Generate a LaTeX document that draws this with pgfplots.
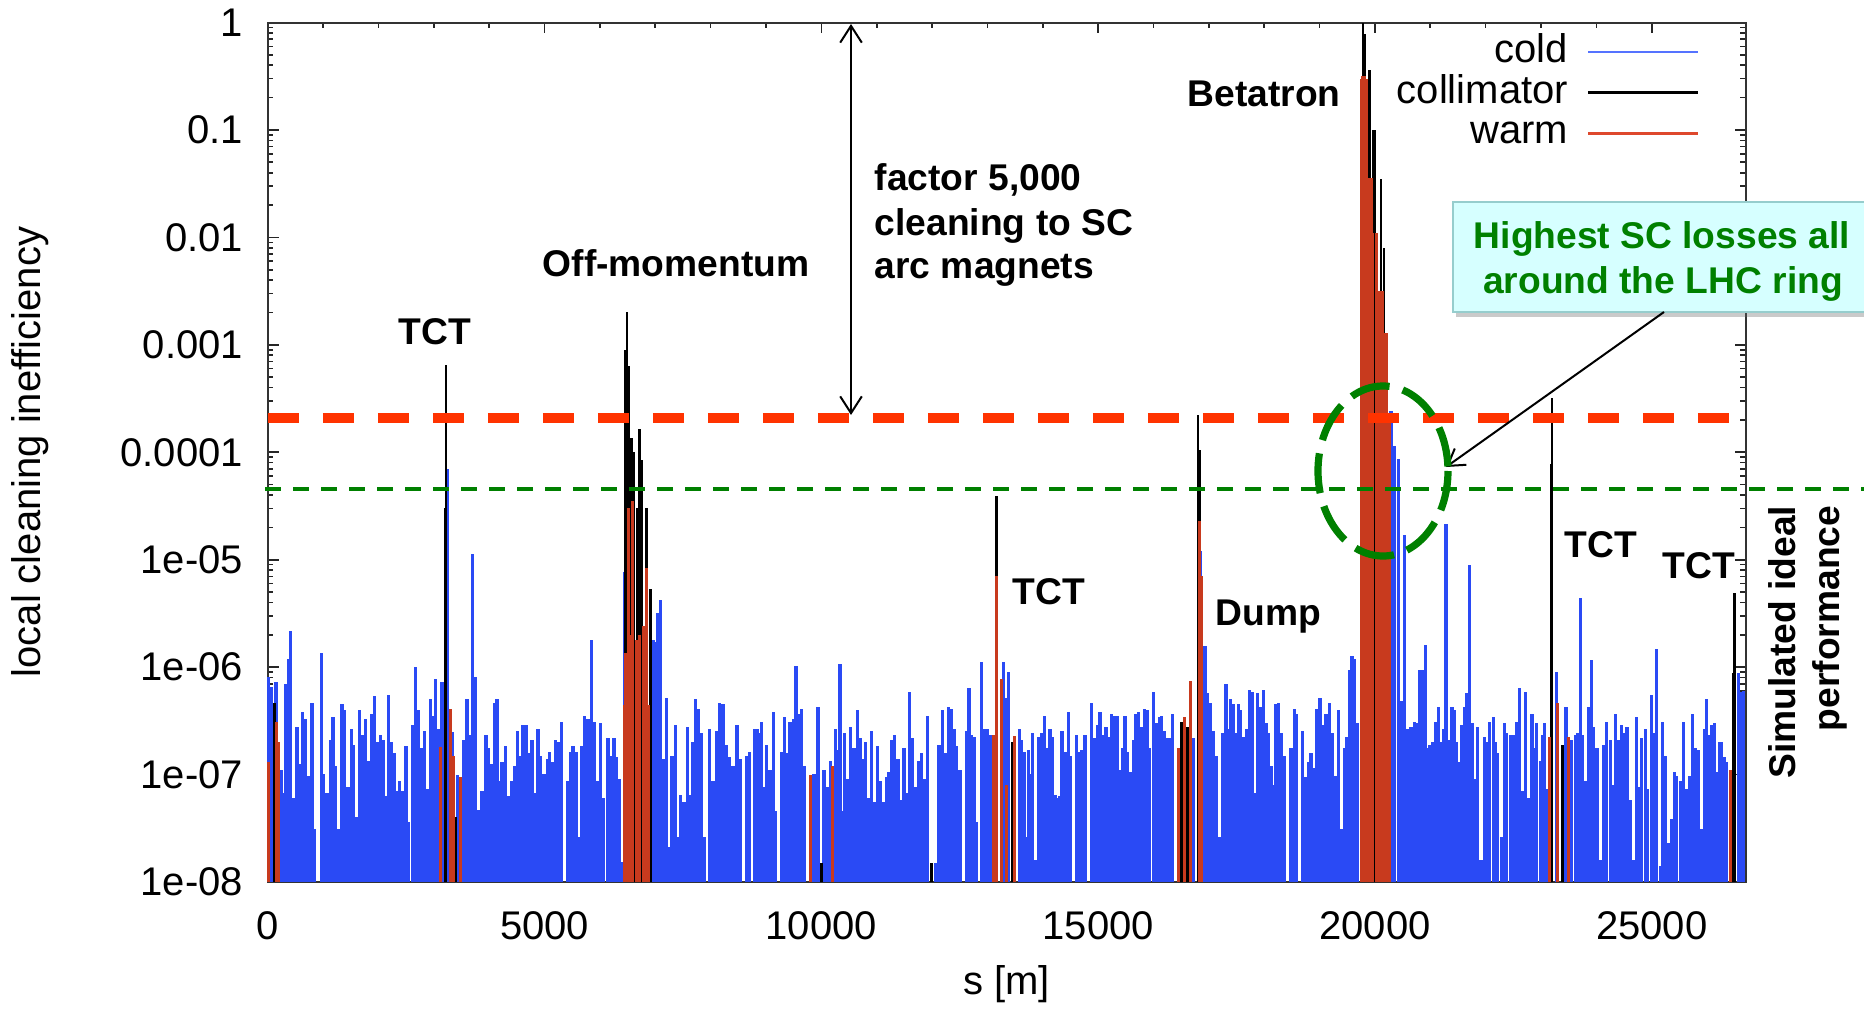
\documentclass[border=0pt]{standalone}
\usepackage{fontspec}
\setmainfont{Liberation Sans}
\usepackage{pgfplots}
\pgfplotsset{compat=1.18}
\usepackage{pgfplotstable}
\usetikzlibrary{arrows.meta,shadows}

\definecolor{coldblue}{RGB}{42,74,245}
\definecolor{coldleg}{RGB}{85,115,255}
\definecolor{warmred}{RGB}{200,58,30}
\definecolor{warmleg}{RGB}{222,72,45}
\definecolor{refred}{RGB}{255,51,0}
\definecolor{refgreen}{RGB}{0,128,0}
\definecolor{boxfill}{RGB}{214,255,255}
\definecolor{boxdraw}{RGB}{150,205,205}

\newcommand{\annfont}{\bfseries\fontsize{9.3}{11.2}\selectfont}

\pgfplotstableread{
s v
15 8.1e-7
70 6.6e-7
148 7.2e-7
244 1.1e-7
286 6.8e-8
328 6.9e-7
371 1.2e-6
413 2.15e-6
455 6e-8
527 2.76e-7
575 1.25e-7
630 3.8e-7
678 3.3e-7
738 9.8e-8
798 4.65e-7
846 3.1e-8
967 1.36e-6
1009 1.02e-7
1069 6.8e-8
1129 2.1e-7
1178 3.4e-7
1220 1.2e-7
1280 3.1e-8
1340 4.5e-7
1388 3.95e-7
1448 7.7e-8
1509 2.65e-7
1551 1.9e-7
1611 4e-8
1659 3.95e-7
1701 2.35e-7
1762 3.3e-7
1822 1.35e-7
1870 3.65e-7
1924 5.4e-7
1972 2e-7
2033 2.35e-7
2081 2.1e-7
2135 6.3e-8
2183 5.45e-7
2231 2e-7
2291 1.6e-7
2333 7e-8
2382 8.7e-8
2424 7e-8
2496 1.85e-7
2544 3.6e-8
2617 2.9e-7
2665 1e-6
2713 3.95e-7
2767 1.78e-7
2827 2.55e-7
2875 7.4e-8
2936 5e-7
2984 3.5e-7
3026 7.8e-7
3074 2.65e-7
3146 7.2e-7
3240 7e-5
3330 2.5e-7
3420 1e-7
3480 6e-8
3538 2.1e-7
3598 5e-7
3658 2.35e-7
3700 1.14e-5
3748 8.1e-7
3809 4.7e-8
3869 7e-8
3941 2.35e-7
3989 1.78e-7
4037 1.25e-7
4092 4.65e-7
4140 5e-7
4182 8.7e-8
4230 1.3e-7
4290 1.85e-7
4350 6.3e-8
4398 8.7e-8
4459 1.2e-7
4508 2.55e-7
4568 1.5e-7
4610 2.9e-7
4670 2.9e-7
4712 1.6e-7
4773 2.1e-7
4821 6.8e-8
4881 2.65e-7
4929 1.5e-7
4989 1.02e-7
5049 1.4e-7
5092 1.64e-7
5152 1.3e-7
5200 2.1e-7
5254 2e-7
5302 3.1e-7
5423 8.7e-8
5465 1.64e-7
5513 1.85e-7
5573 1.64e-7
5621 2.6e-8
5676 1.85e-7
5724 3.5e-7
5784 3.3e-7
5844 1.8e-6
5892 3.1e-7
5953 8.7e-8
6007 3e-7
6055 6e-8
6145 2.2e-7
6206 1.5e-7
6254 2.2e-7
6296 1.45e-7
6344 9e-8
6386 1.55e-8
6446 7.7e-6
6958 1.8e-6
7018 1.7e-6
7048 3.2e-6
7097 4.2e-6
7139 1.4e-7
7199 5.2e-7
7259 2.1e-8
7301 1.5e-7
7361 2.9e-7
7410 2.6e-8
7458 6.5e-8
7518 5.6e-8
7578 2.76e-7
7638 6.5e-8
7681 2e-7
7729 5e-7
7783 4.1e-7
7831 2.45e-7
7891 2.6e-8
7982 2.65e-7
8042 8.7e-8
8102 2.55e-7
8162 4.65e-7
8222 4.5e-7
8283 1.9e-7
8343 1.45e-7
8403 1.2e-7
8475 2.9e-7
8536 1.4e-7
8644 1.5e-7
8704 1.64e-7
8794 2.65e-7
8843 2.65e-7
8873 2.45e-7
8915 3.1e-7
8964 7.7e-8
9012 1.9e-7
9072 1.1e-7
9132 3.8e-7
9174 4.6e-8
9277 1.64e-7
9337 3.4e-7
9385 1.6e-7
9433 3.1e-7
9493 3.3e-7
9542 1.03e-6
9596 3.65e-7
9644 4.1e-7
9686 1.2e-7
9867 1.02e-7
9939 4.3e-7
10047 1.1e-7
10120 7.7e-8
10168 1.35e-7
10258 2.65e-7
10300 1.7e-7
10336 1.07e-6
10379 4.6e-8
10421 2.45e-7
10481 9e-8
10529 2.76e-7
10589 1.78e-7
10649 3.95e-7
10698 2.2e-7
10758 1.4e-7
10800 2e-7
10860 6e-8
10902 2.55e-7
10963 5.6e-8
11011 1.85e-7
11071 8.7e-8
11131 5.6e-8
11179 9.4e-8
11221 1.06e-7
11270 2.1e-7
11324 2.35e-7
11384 1.4e-7
11432 5.8e-8
11492 1.78e-7
11541 6.8e-8
11595 5.9e-7
11643 2.2e-7
11703 7.7e-8
11763 1.35e-7
11812 1.6e-7
11866 9e-8
11914 3.5e-7
12064 1.5e-8
12125 1.9e-7
12185 3.95e-7
12245 1.6e-7
12293 4.3e-7
12347 4.1e-7
12396 2.65e-7
12444 1.85e-7
12504 1.1e-7
12624 2.55e-7
12666 6.4e-7
12709 2.35e-7
12757 2.26e-7
12805 3.6e-8
12895 1.12e-6
12950 2.65e-7
12998 2.65e-7
13058 2.35e-7
13286 1.12e-6
13316 5.2e-7
13376 9.1e-7
13575 2.65e-7
13617 2.1e-7
13660 1.64e-7
13696 2.6e-8
13738 1.7e-7
13780 1.02e-7
13816 2.45e-7
13858 1.6e-8
13918 2.26e-7
13979 2.45e-7
14027 3.5e-7
14069 1.78e-7
14129 2.65e-7
14171 2.26e-7
14219 6.5e-8
14262 6e-8
14310 6.3e-8
14346 2.55e-7
14400 1.64e-7
14460 3.8e-7
14502 1.5e-7
14611 2.35e-7
14659 1.64e-7
14701 1.7e-7
14761 2.35e-7
14882 4.65e-7
14942 2.2e-7
14990 2.9e-7
15032 3.8e-7
15093 2.35e-7
15141 2.76e-7
15183 2.26e-7
15243 3.65e-7
15291 3.5e-7
15345 3.5e-7
15394 1.1e-7
15442 1.78e-7
15484 3.5e-7
15526 1.64e-7
15574 1.06e-7
15634 2.1e-7
15683 3.65e-7
15725 3.8e-7
15785 2.76e-7
15833 4.1e-7
15887 3.95e-7
15935 1.78e-7
15996 5.9e-7
16044 3e-7
16104 3.4e-7
16146 3.5e-7
16194 2.55e-7
16249 2.2e-7
16297 2.2e-7
16345 3.65e-7
16718 2.2e-7
16856 1.2e-5
16929 1.56e-6
16971 5.7e-7
17019 4.65e-7
17049 2.26e-7
17091 2.55e-7
17140 1.5e-7
17200 2.6e-8
17248 2.45e-7
17308 6.9e-7
17350 2.65e-7
17392 5e-7
17441 4.5e-7
17489 2.45e-7
17531 4.5e-7
17573 3.95e-7
17633 2.26e-7
17681 2.65e-7
17730 6.1e-7
17778 5.9e-7
17839 6.8e-8
17881 5.7e-7
17923 4.3e-7
17983 6.1e-7
18031 3e-7
18079 2.45e-7
18122 1.2e-7
18164 8e-8
18212 4.5e-7
18260 4.65e-7
18302 2.45e-7
18362 1.5e-7
18483 1.78e-7
18543 4.1e-7
18573 3.65e-7
18694 2.55e-7
18742 9.4e-8
18802 1.3e-7
18844 1.6e-7
18904 1.15e-7
18952 4.1e-7
19007 5.2e-7
19055 2.9e-7
19115 3.65e-7
19175 4.65e-7
19223 2.45e-7
19284 9.8e-8
19344 3.95e-7
19404 3.1e-8
19446 1.78e-7
19494 2.26e-7
19537 9.5e-7
19585 1.26e-6
19627 1.2e-6
19687 3e-7
20289 2.4e-4
20349 1.15e-4
20422 8.7e-5
20470 4.8e-7
20530 1.7e-5
20590 2.65e-7
20650 2.76e-7
20711 3.1e-7
20759 3e-7
20801 9.5e-7
20849 9.5e-7
20909 1.6e-6
20951 1.78e-7
20994 1.9e-7
21042 2e-7
21090 3.1e-7
21150 4.3e-7
21192 2e-7
21234 2.65e-7
21283 2.15e-5
21331 2.1e-7
21391 4.3e-7
21433 3.95e-7
21475 2e-7
21523 1.3e-7
21572 2.9e-7
21614 4.3e-7
21656 5.7e-7
21704 8.9e-6
21752 3e-7
21794 9e-8
21854 2.76e-7
21915 1.6e-8
21975 2.26e-7
22017 2e-7
22077 3.1e-7
22138 3.4e-7
22173 2e-7
22221 1.6e-7
22282 2.6e-8
22342 3e-7
22384 2.45e-7
22444 2.35e-7
22504 2.35e-7
22565 3.1e-7
22613 6.4e-7
22667 7e-8
22715 5.9e-7
22775 6e-8
22836 3.65e-7
22884 1.78e-7
22926 3e-7
22986 1.35e-7
23028 2.35e-7
23064 3e-7
23106 7.4e-8
23287 9.1e-7
23450 4.3e-7
23558 2.1e-7
23618 2.35e-7
23666 2.45e-7
23709 4.4e-6
23751 2.35e-7
23799 8.7e-8
23859 4.3e-7
23907 1.17e-6
23949 2.76e-7
24010 1.78e-7
24070 1.6e-8
24130 1.9e-7
24190 3.1e-7
24251 2.1e-7
24293 8e-8
24353 3.65e-7
24401 2.1e-7
24449 2.9e-7
24509 2.45e-7
24552 2.76e-7
24612 5.8e-8
24672 1.6e-8
24720 3.4e-7
24774 7.7e-8
24822 2.2e-7
24883 2.65e-7
24931 7.4e-8
24991 5.45e-7
25045 2.45e-7
25093 1.48e-6
25154 1.4e-8
25196 3.1e-7
25244 1.5e-7
25304 2.3e-8
25352 3.9e-8
25412 1.06e-7
25455 9.8e-8
25515 8.7e-8
25575 3.1e-7
25635 7.4e-8
25677 9.8e-8
25738 3.65e-7
25786 1.78e-7
25846 1.7e-7
25894 3.1e-8
25954 2.65e-7
25997 5e-7
26039 2.35e-7
26087 2.9e-7
26135 3e-7
26177 1.06e-7
26225 2e-7
26268 2e-7
26316 1.45e-7
26358 1.3e-7
26568 8.8e-7
26617 5.9e-7
26660 6e-7
}\coldtab

\pgfplotstableread{
s v
121 4.6e-7
3200 3e-5
3222 6.5e-4
3390 4e-8
6458 8.9e-4
6489 2e-3
6519 6.3e-4
6540 1.1e-4
6567 1.35e-4
6609 1e-4
6680 3e-5
6717 1.65e-4
6759 8.5e-5
6838 3e-5
6910 5.3e-6
10000 1.5e-8
11992 1.5e-8
13130 1.8e-7
13166 3.9e-5
13455 2e-7
16507 3.1e-7
16615 2.8e-7
16808 2.2e-4
16830 1.05e-4
19786 0.99
19824 0.78
19901 0.36
19962 0.1
19990 0.1
20115 0.035
20168 7.9e-3
20222 9.6e-4
23185 7.8e-5
23197 3.2e-4
23389 1.9e-7
26478 8.8e-7
26496 4.9e-6
}\colltab

\pgfplotstableread{
s v
20 1.3e-7
160 3.1e-7
200 2e-7
3116 1.8e-7
3297 4.1e-7
3357 1.5e-7
3477 9.4e-8
6440 4.4e-7
6462 1.36e-6
6513 3e-5
6565 2e-6
6597 3.5e-5
6669 1.8e-6
6723 2e-6
6783 2.4e-6
6844 8.3e-6
6880 4.4e-7
9800 1e-7
10200 1.2e-7
13106 2.35e-7
13166 7.1e-6
13262 7.8e-7
13346 8e-8
13497 2.3e-7
16447 1.78e-7
16560 3.4e-7
16660 7.4e-7
16826 2.3e-5
16868 7.1e-6
23149 2.26e-7
23300 4.6e-7
23498 2.26e-7
26430 1.1e-7
}\warmtab

\pgfplotstableread{
s v
19755 0.3
19780 0.32
19805 0.32
19830 0.3
19855 0.3
19880 0.036
19905 0.036
19930 0.036
19950 0.011
20030 0.011
20055 3.2e-3
20080 3.2e-3
20105 3.2e-3
20130 3.2e-3
20155 1.3e-3
20180 1.3e-3
20205 1.3e-3
20230 2.3e-4
20255 2.3e-4
}\warmbeta

\begin{document}
\begin{tikzpicture}
\begin{axis}[
  at={(0,0)}, anchor=south west,
  scale only axis, width=369.5pt, height=214.875pt,
  xmin=0, xmax=26700, ymode=log, ymin=1e-8, ymax=1,
  log origin y=infty,
  clip=false,
  scaled x ticks=false,
  xtick={0,5000,10000,15000,20000,25000},
  xticklabels={0,5000,10000,15000,20000,25000},
  minor x tick num=4,
  ytick={1e-8,1e-7,1e-6,1e-5,1e-4,1e-3,1e-2,1e-1,1},
  yticklabels={1e-08,1e-07,1e-06,1e-05,0.0001,0.001,0.01,0.1,1},
  tick align=inside, xtick pos=both, ytick pos=both,
  xticklabel pos=lower, yticklabel pos=left,
  major tick length=2.7pt, minor tick length=1.35pt,
  every tick/.style={black!85, line width=0.4pt},
  axis line style={black!80, line width=0.5pt},
  tick label style={font=\fontsize{10}{12}\selectfont},
  xticklabel style={yshift=-3.9pt},
  yticklabel style={xshift=-2.7pt},
  xlabel={s [m]}, ylabel={local cleaning inefficiency},
  label style={font=\fontsize{10}{12}\selectfont},
  xlabel style={at={(axis description cs:0.5,-0.1187)}, anchor=center},
  ylabel style={at={(axis description cs:-0.1609,0.5003)}, anchor=center},
  legend image code/.code={\draw[#1] (0pt,0pt) -- (27.3pt,0pt);},
  legend style={draw=none, fill=none, at={(axis description cs:0.977,1.002)},
    anchor=north east, font=\fontsize{10}{12}\selectfont,
    row sep=-1pt, column sep=3.75pt,
    nodes={inner sep=1pt, text height=7.2pt, text depth=2pt}},
  legend cell align=right, legend plot pos=right,
]
\addplot[ycomb, mark=none, coldblue, line width=0.8pt, forget plot] table[x=s,y=v] {\coldtab};
\addplot[ycomb, mark=none, black, line width=0.6pt, forget plot] table[x=s,y=v] {\colltab};
\addplot[ycomb, mark=none, warmred, line width=0.75pt, forget plot] table[x=s,y=v] {\warmtab};
\addplot[ycomb, mark=none, warmred, line width=0.8pt, forget plot] table[x=s,y=v] {\warmbeta};
\addplot[refred, line width=2.5pt, dash pattern=on 7.75pt off 6pt, forget plot] coordinates {(0,2.1e-4) (26700,2.1e-4)};
\addplot[refgreen, line width=1pt, dash pattern=on 4pt off 3pt, forget plot] coordinates {(-50,4.6e-5) (28900,4.6e-5)};
\addlegendimage{coldleg, line width=0.7pt}
\addlegendentry{cold}
\addlegendimage{black, line width=0.7pt}
\addlegendentry{collimator}
\addlegendimage{warmleg, line width=0.7pt}
\addlegendentry{warm}
\end{axis}
\begin{scope}[x=0.25pt,y=-0.25pt,shift={(-66.95pt,220.5pt)}]
  % callout box
  \path[fill=boxfill, draw=boxdraw, line width=0.5pt,
    drop shadow={shadow xshift=0.8pt, shadow yshift=-1.2pt, opacity=0.35, fill=black!60}]
    (1453,202) rectangle (1900,312);
  \node[text=refgreen, font=\annfont, anchor=base] at (1662,248) {Highest SC losses all};
  \node[text=refgreen, font=\annfont, anchor=base] at (1663,293) {around the LHC ring};
  % arrows
  \draw[line width=0.5pt, {Straight Barb[length=4.2pt,width=5.4pt]}-{Straight Barb[length=4.2pt,width=5.4pt]}] (851,24) -- (851,415);
  \draw[line width=0.5pt, -{Straight Barb[length=4pt,width=5pt]}] (1664,312) -- (1446,467);
  % ellipse
  \draw[refgreen, line width=1.8pt, dash pattern=on 10pt off 3.4pt] (1383,471) ellipse [x radius=65, y radius=85];
  % labels
  \node[font=\annfont, anchor=base] at (435,344) {TCT};
  \node[font=\annfont, anchor=base] at (676,276) {Off-momentum};
  \node[font=\annfont, anchor=base west, inner sep=0pt] at (874,190) {factor 5,000};
  \node[font=\annfont, anchor=base west, inner sep=0pt] at (874,235) {cleaning to SC};
  \node[font=\annfont, anchor=base west, inner sep=0pt] at (874,278) {arc magnets};
  \node[font=\annfont, anchor=base] at (1264,107) {Betatron};
  \node[font=\annfont, anchor=base] at (1049,604) {TCT};
  \node[font=\annfont, anchor=base west, inner sep=0pt] at (1215,625) {Dump};
  \node[font=\annfont, anchor=base] at (1601,557) {TCT};
  \node[font=\annfont, anchor=base] at (1699,578) {TCT};
  \node[font=\annfont, anchor=base east, rotate=90, inner sep=0pt] at (1795,505) {Simulated ideal};
  \node[font=\annfont, anchor=base east, rotate=90, inner sep=0pt] at (1839,505) {performance};
\end{scope}
\pgfresetboundingbox
\begin{scope}[x=0.25pt,y=-0.25pt,shift={(-66.95pt,220.5pt)}]
  \path[use as bounding box] (0,0) rectangle (1864,1010);
\end{scope}
\end{tikzpicture}
\end{document}
